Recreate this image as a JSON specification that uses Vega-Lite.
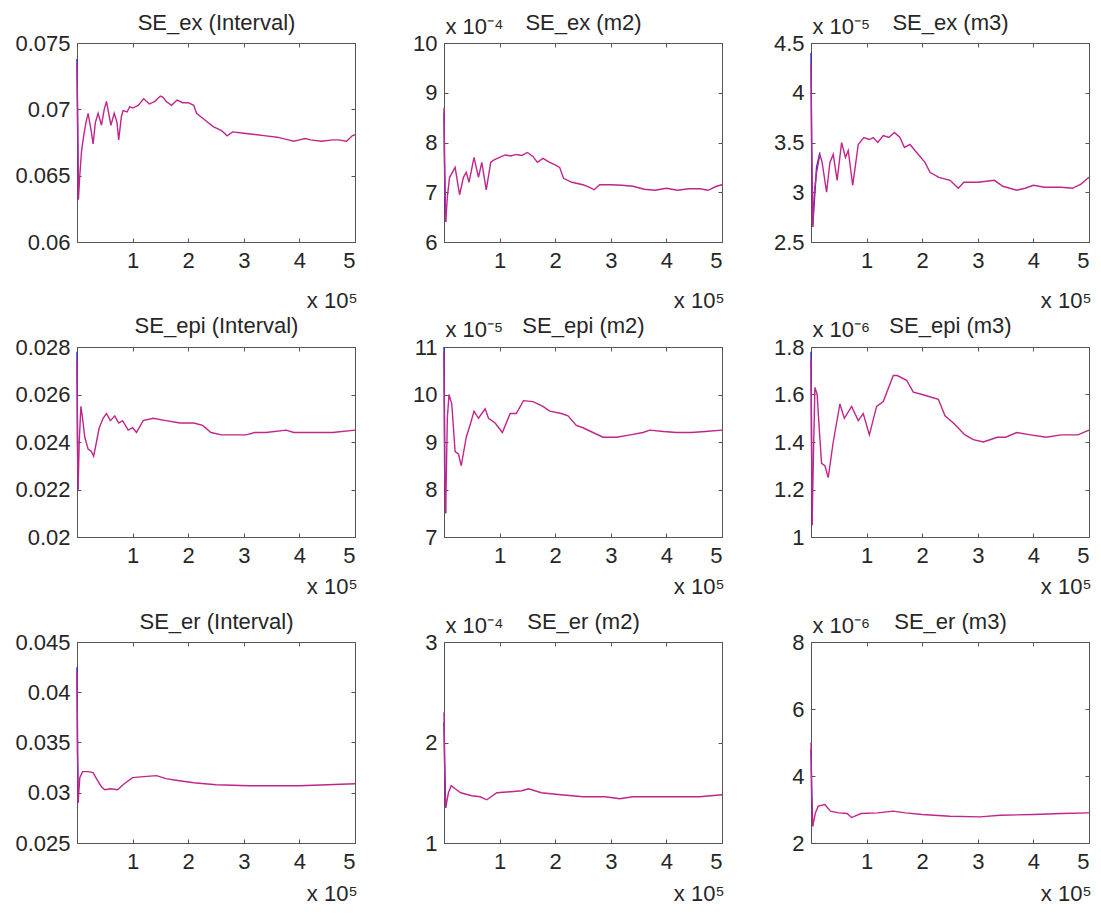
{
  "$schema": "https://vega.github.io/schema/vega-lite/v6.json",
  "background": "white",
  "padding": {"left": 14, "top": 10, "right": 5, "bottom": 5},
  "config": {
    "view": {"stroke": "#555555", "strokeWidth": 1},
    "axis": {
      "labelFont": "Liberation Sans", "labelFontSize": 22, "labelColor": "#262626",
      "titleFont": "Liberation Sans", "titleFontSize": 22, "titleFontWeight": "normal", "titleColor": "#262626",
      "tickSize": -4, "tickColor": "#555555", "domainColor": "#555555", "grid": false
    },
    "axisX": {"labelPadding": 12},
    "axisY": {"labelPadding": 11},
    "line": {"clip": true}
  },
  "datasets": {
    "p1": [
      {"s":"b","x":0,"y":0.0738},{"s":"b","x":0.015,"y":0.0665},{"s":"b","x":0.025,"y":0.0632},
      {"s":"m","x":0,"y":0.0735},{"s":"m","x":0.01,"y":0.07},{"s":"m","x":0.025,"y":0.0632},{"s":"m","x":0.05,"y":0.065},{"s":"m","x":0.08,"y":0.0668},{"s":"m","x":0.12,"y":0.068},{"s":"m","x":0.16,"y":0.069},{"s":"m","x":0.2,"y":0.0697},{"s":"m","x":0.25,"y":0.0685},{"s":"m","x":0.29,"y":0.0674},{"s":"m","x":0.33,"y":0.069},{"s":"m","x":0.38,"y":0.0697},{"s":"m","x":0.44,"y":0.0688},{"s":"m","x":0.49,"y":0.07},{"s":"m","x":0.53,"y":0.0706},{"s":"m","x":0.61,"y":0.0688},{"s":"m","x":0.67,"y":0.0697},{"s":"m","x":0.72,"y":0.069},{"s":"m","x":0.75,"y":0.0677},{"s":"m","x":0.8,"y":0.0695},{"s":"m","x":0.83,"y":0.0699},{"s":"m","x":0.9,"y":0.0698},{"s":"m","x":0.95,"y":0.0702},{"s":"m","x":1.0,"y":0.0701},{"s":"m","x":1.1,"y":0.0703},{"s":"m","x":1.2,"y":0.0708},{"s":"m","x":1.3,"y":0.0704},{"s":"m","x":1.4,"y":0.0706},{"s":"m","x":1.5,"y":0.071},{"s":"m","x":1.55,"y":0.0709},{"s":"m","x":1.6,"y":0.0706},{"s":"m","x":1.7,"y":0.0703},{"s":"m","x":1.8,"y":0.0707},{"s":"m","x":1.9,"y":0.0705},{"s":"m","x":2.0,"y":0.0705},{"s":"m","x":2.1,"y":0.0703},{"s":"m","x":2.15,"y":0.0697},{"s":"m","x":2.3,"y":0.0692},{"s":"m","x":2.45,"y":0.0687},{"s":"m","x":2.6,"y":0.0684},{"s":"m","x":2.7,"y":0.068},{"s":"m","x":2.8,"y":0.0683},{"s":"m","x":3.0,"y":0.0682},{"s":"m","x":3.2,"y":0.0681},{"s":"m","x":3.4,"y":0.068},{"s":"m","x":3.6,"y":0.0679},{"s":"m","x":3.8,"y":0.0677},{"s":"m","x":3.9,"y":0.0676},{"s":"m","x":4.0,"y":0.0677},{"s":"m","x":4.1,"y":0.0678},{"s":"m","x":4.2,"y":0.0677},{"s":"m","x":4.4,"y":0.0676},{"s":"m","x":4.6,"y":0.0677},{"s":"m","x":4.7,"y":0.0677},{"s":"m","x":4.85,"y":0.0676},{"s":"m","x":4.95,"y":0.068},{"s":"m","x":5.0,"y":0.0681}
    ],
    "p2": [
      {"s":"b","x":0,"y":8.6},{"s":"b","x":0.015,"y":7.0},{"s":"b","x":0.03,"y":6.4},
      {"s":"m","x":0,"y":8.7},{"s":"m","x":0.01,"y":7.6},{"s":"m","x":0.03,"y":6.4},{"s":"m","x":0.06,"y":6.9},{"s":"m","x":0.1,"y":7.3},{"s":"m","x":0.2,"y":7.5},{"s":"m","x":0.28,"y":6.95},{"s":"m","x":0.35,"y":7.3},{"s":"m","x":0.4,"y":7.4},{"s":"m","x":0.45,"y":7.2},{"s":"m","x":0.54,"y":7.7},{"s":"m","x":0.62,"y":7.3},{"s":"m","x":0.68,"y":7.6},{"s":"m","x":0.76,"y":7.05},{"s":"m","x":0.84,"y":7.6},{"s":"m","x":0.9,"y":7.65},{"s":"m","x":1.0,"y":7.7},{"s":"m","x":1.1,"y":7.75},{"s":"m","x":1.2,"y":7.73},{"s":"m","x":1.3,"y":7.76},{"s":"m","x":1.4,"y":7.74},{"s":"m","x":1.5,"y":7.8},{"s":"m","x":1.6,"y":7.72},{"s":"m","x":1.68,"y":7.6},{"s":"m","x":1.78,"y":7.68},{"s":"m","x":1.9,"y":7.6},{"s":"m","x":2.0,"y":7.55},{"s":"m","x":2.08,"y":7.5},{"s":"m","x":2.15,"y":7.28},{"s":"m","x":2.3,"y":7.2},{"s":"m","x":2.5,"y":7.15},{"s":"m","x":2.62,"y":7.1},{"s":"m","x":2.7,"y":7.05},{"s":"m","x":2.8,"y":7.15},{"s":"m","x":3.0,"y":7.15},{"s":"m","x":3.2,"y":7.14},{"s":"m","x":3.4,"y":7.12},{"s":"m","x":3.6,"y":7.06},{"s":"m","x":3.8,"y":7.04},{"s":"m","x":4.0,"y":7.08},{"s":"m","x":4.2,"y":7.04},{"s":"m","x":4.4,"y":7.07},{"s":"m","x":4.6,"y":7.07},{"s":"m","x":4.75,"y":7.04},{"s":"m","x":4.9,"y":7.12},{"s":"m","x":5.0,"y":7.15}
    ],
    "p3": [
      {"s":"b","x":0,"y":4.4},{"s":"b","x":0.015,"y":3.2},{"s":"b","x":0.03,"y":2.65},{"s":"b","x":0.1,"y":3.25},{"s":"b","x":0.16,"y":3.4},
      {"s":"m","x":0,"y":4.3},{"s":"m","x":0.01,"y":3.6},{"s":"m","x":0.03,"y":2.65},{"s":"m","x":0.06,"y":3.0},{"s":"m","x":0.1,"y":3.2},{"s":"m","x":0.16,"y":3.38},{"s":"m","x":0.2,"y":3.3},{"s":"m","x":0.28,"y":3.0},{"s":"m","x":0.34,"y":3.3},{"s":"m","x":0.4,"y":3.38},{"s":"m","x":0.47,"y":3.12},{"s":"m","x":0.55,"y":3.5},{"s":"m","x":0.62,"y":3.35},{"s":"m","x":0.67,"y":3.42},{"s":"m","x":0.75,"y":3.07},{"s":"m","x":0.85,"y":3.48},{"s":"m","x":0.95,"y":3.55},{"s":"m","x":1.05,"y":3.53},{"s":"m","x":1.12,"y":3.55},{"s":"m","x":1.2,"y":3.5},{"s":"m","x":1.3,"y":3.57},{"s":"m","x":1.4,"y":3.55},{"s":"m","x":1.5,"y":3.6},{"s":"m","x":1.6,"y":3.55},{"s":"m","x":1.68,"y":3.45},{"s":"m","x":1.78,"y":3.48},{"s":"m","x":1.9,"y":3.4},{"s":"m","x":2.05,"y":3.3},{"s":"m","x":2.14,"y":3.2},{"s":"m","x":2.3,"y":3.15},{"s":"m","x":2.5,"y":3.12},{"s":"m","x":2.65,"y":3.04},{"s":"m","x":2.75,"y":3.1},{"s":"m","x":3.0,"y":3.1},{"s":"m","x":3.3,"y":3.12},{"s":"m","x":3.45,"y":3.06},{"s":"m","x":3.7,"y":3.02},{"s":"m","x":3.85,"y":3.04},{"s":"m","x":4.0,"y":3.07},{"s":"m","x":4.2,"y":3.05},{"s":"m","x":4.5,"y":3.05},{"s":"m","x":4.7,"y":3.04},{"s":"m","x":4.85,"y":3.08},{"s":"m","x":5.0,"y":3.15}
    ],
    "p4": [
      {"s":"b","x":0,"y":0.0278},{"s":"b","x":0.01,"y":0.024},{"s":"b","x":0.02,"y":0.022},
      {"s":"m","x":0,"y":0.0275},{"s":"m","x":0.01,"y":0.0235},{"s":"m","x":0.02,"y":0.022},{"s":"m","x":0.04,"y":0.024},{"s":"m","x":0.07,"y":0.0255},{"s":"m","x":0.1,"y":0.025},{"s":"m","x":0.14,"y":0.0242},{"s":"m","x":0.2,"y":0.0237},{"s":"m","x":0.26,"y":0.0236},{"s":"m","x":0.3,"y":0.0234},{"s":"m","x":0.35,"y":0.024},{"s":"m","x":0.4,"y":0.0246},{"s":"m","x":0.47,"y":0.025},{"s":"m","x":0.53,"y":0.0252},{"s":"m","x":0.6,"y":0.0249},{"s":"m","x":0.68,"y":0.0251},{"s":"m","x":0.75,"y":0.0248},{"s":"m","x":0.82,"y":0.0249},{"s":"m","x":0.92,"y":0.0245},{"s":"m","x":1.0,"y":0.0246},{"s":"m","x":1.07,"y":0.0244},{"s":"m","x":1.19,"y":0.0249},{"s":"m","x":1.37,"y":0.025},{"s":"m","x":1.6,"y":0.0249},{"s":"m","x":1.85,"y":0.0248},{"s":"m","x":2.1,"y":0.0248},{"s":"m","x":2.26,"y":0.0247},{"s":"m","x":2.41,"y":0.0244},{"s":"m","x":2.6,"y":0.0243},{"s":"m","x":2.8,"y":0.0243},{"s":"m","x":3.04,"y":0.0243},{"s":"m","x":3.2,"y":0.0244},{"s":"m","x":3.4,"y":0.0244},{"s":"m","x":3.76,"y":0.0245},{"s":"m","x":3.9,"y":0.0244},{"s":"m","x":4.2,"y":0.0244},{"s":"m","x":4.6,"y":0.0244},{"s":"m","x":5.0,"y":0.0245}
    ],
    "p5": [
      {"s":"b","x":0,"y":11.0},{"s":"b","x":0.015,"y":8.5},{"s":"b","x":0.03,"y":7.5},
      {"s":"m","x":0,"y":10.9},{"s":"m","x":0.01,"y":8.5},{"s":"m","x":0.03,"y":7.5},{"s":"m","x":0.06,"y":9.5},{"s":"m","x":0.09,"y":10.0},{"s":"m","x":0.14,"y":9.8},{"s":"m","x":0.2,"y":8.8},{"s":"m","x":0.26,"y":8.75},{"s":"m","x":0.31,"y":8.5},{"s":"m","x":0.4,"y":9.1},{"s":"m","x":0.48,"y":9.4},{"s":"m","x":0.54,"y":9.65},{"s":"m","x":0.62,"y":9.5},{"s":"m","x":0.74,"y":9.7},{"s":"m","x":0.8,"y":9.5},{"s":"m","x":0.92,"y":9.4},{"s":"m","x":1.05,"y":9.2},{"s":"m","x":1.19,"y":9.6},{"s":"m","x":1.3,"y":9.6},{"s":"m","x":1.43,"y":9.87},{"s":"m","x":1.6,"y":9.85},{"s":"m","x":1.78,"y":9.75},{"s":"m","x":1.9,"y":9.65},{"s":"m","x":2.11,"y":9.6},{"s":"m","x":2.23,"y":9.55},{"s":"m","x":2.38,"y":9.35},{"s":"m","x":2.5,"y":9.3},{"s":"m","x":2.68,"y":9.2},{"s":"m","x":2.86,"y":9.1},{"s":"m","x":3.1,"y":9.1},{"s":"m","x":3.35,"y":9.15},{"s":"m","x":3.58,"y":9.2},{"s":"m","x":3.7,"y":9.25},{"s":"m","x":3.95,"y":9.22},{"s":"m","x":4.18,"y":9.2},{"s":"m","x":4.45,"y":9.2},{"s":"m","x":4.7,"y":9.22},{"s":"m","x":5.0,"y":9.25}
    ],
    "p6": [
      {"s":"b","x":0,"y":1.78},{"s":"b","x":0.01,"y":1.4},{"s":"b","x":0.02,"y":1.05},
      {"s":"m","x":0,"y":1.75},{"s":"m","x":0.01,"y":1.4},{"s":"m","x":0.02,"y":1.05},{"s":"m","x":0.04,"y":1.3},{"s":"m","x":0.07,"y":1.63},{"s":"m","x":0.11,"y":1.6},{"s":"m","x":0.15,"y":1.45},{"s":"m","x":0.19,"y":1.31},{"s":"m","x":0.25,"y":1.3},{"s":"m","x":0.31,"y":1.25},{"s":"m","x":0.4,"y":1.4},{"s":"m","x":0.52,"y":1.56},{"s":"m","x":0.6,"y":1.5},{"s":"m","x":0.73,"y":1.55},{"s":"m","x":0.85,"y":1.49},{"s":"m","x":0.94,"y":1.52},{"s":"m","x":1.05,"y":1.43},{"s":"m","x":1.18,"y":1.55},{"s":"m","x":1.3,"y":1.57},{"s":"m","x":1.48,"y":1.68},{"s":"m","x":1.55,"y":1.68},{"s":"m","x":1.72,"y":1.66},{"s":"m","x":1.84,"y":1.61},{"s":"m","x":2.0,"y":1.6},{"s":"m","x":2.29,"y":1.58},{"s":"m","x":2.41,"y":1.51},{"s":"m","x":2.56,"y":1.48},{"s":"m","x":2.77,"y":1.43},{"s":"m","x":2.92,"y":1.41},{"s":"m","x":3.1,"y":1.4},{"s":"m","x":3.35,"y":1.42},{"s":"m","x":3.5,"y":1.42},{"s":"m","x":3.7,"y":1.44},{"s":"m","x":3.95,"y":1.43},{"s":"m","x":4.23,"y":1.42},{"s":"m","x":4.5,"y":1.43},{"s":"m","x":4.8,"y":1.43},{"s":"m","x":5.0,"y":1.45}
    ],
    "p7": [
      {"s":"b","x":0,"y":0.0425},{"s":"b","x":0.01,"y":0.034},{"s":"b","x":0.02,"y":0.029},
      {"s":"m","x":0,"y":0.042},{"s":"m","x":0.01,"y":0.034},{"s":"m","x":0.02,"y":0.029},{"s":"m","x":0.05,"y":0.0315},{"s":"m","x":0.1,"y":0.0321},{"s":"m","x":0.2,"y":0.0321},{"s":"m","x":0.29,"y":0.032},{"s":"m","x":0.36,"y":0.0313},{"s":"m","x":0.44,"y":0.0306},{"s":"m","x":0.5,"y":0.0303},{"s":"m","x":0.6,"y":0.0304},{"s":"m","x":0.73,"y":0.0303},{"s":"m","x":0.85,"y":0.0309},{"s":"m","x":1.0,"y":0.0315},{"s":"m","x":1.2,"y":0.0316},{"s":"m","x":1.43,"y":0.0317},{"s":"m","x":1.6,"y":0.0314},{"s":"m","x":1.84,"y":0.0312},{"s":"m","x":2.1,"y":0.031},{"s":"m","x":2.5,"y":0.0308},{"s":"m","x":3.1,"y":0.0307},{"s":"m","x":3.5,"y":0.0307},{"s":"m","x":4.0,"y":0.0307},{"s":"m","x":4.5,"y":0.0308},{"s":"m","x":5.0,"y":0.0309}
    ],
    "p8": [
      {"s":"b","x":0,"y":2.2},{"s":"b","x":0.015,"y":1.7},{"s":"b","x":0.03,"y":1.35},
      {"s":"m","x":0,"y":2.3},{"s":"m","x":0.01,"y":1.8},{"s":"m","x":0.03,"y":1.35},{"s":"m","x":0.08,"y":1.5},{"s":"m","x":0.13,"y":1.57},{"s":"m","x":0.2,"y":1.54},{"s":"m","x":0.3,"y":1.5},{"s":"m","x":0.5,"y":1.47},{"s":"m","x":0.65,"y":1.46},{"s":"m","x":0.77,"y":1.43},{"s":"m","x":0.95,"y":1.5},{"s":"m","x":1.2,"y":1.51},{"s":"m","x":1.4,"y":1.52},{"s":"m","x":1.52,"y":1.54},{"s":"m","x":1.75,"y":1.5},{"s":"m","x":2.1,"y":1.48},{"s":"m","x":2.5,"y":1.46},{"s":"m","x":2.9,"y":1.46},{"s":"m","x":3.16,"y":1.44},{"s":"m","x":3.4,"y":1.46},{"s":"m","x":4.0,"y":1.46},{"s":"m","x":4.6,"y":1.46},{"s":"m","x":5.0,"y":1.48}
    ],
    "p9": [
      {"s":"b","x":0,"y":4.8},{"s":"b","x":0.015,"y":3.4},{"s":"b","x":0.03,"y":2.5},
      {"s":"m","x":0,"y":5.0},{"s":"m","x":0.01,"y":3.5},{"s":"m","x":0.03,"y":2.5},{"s":"m","x":0.08,"y":2.9},{"s":"m","x":0.13,"y":3.1},{"s":"m","x":0.25,"y":3.15},{"s":"m","x":0.35,"y":2.95},{"s":"m","x":0.5,"y":2.9},{"s":"m","x":0.65,"y":2.88},{"s":"m","x":0.73,"y":2.76},{"s":"m","x":0.9,"y":2.88},{"s":"m","x":1.2,"y":2.9},{"s":"m","x":1.48,"y":2.95},{"s":"m","x":1.7,"y":2.9},{"s":"m","x":2.0,"y":2.85},{"s":"m","x":2.5,"y":2.8},{"s":"m","x":3.04,"y":2.78},{"s":"m","x":3.4,"y":2.83},{"s":"m","x":4.0,"y":2.85},{"s":"m","x":4.5,"y":2.88},{"s":"m","x":5.0,"y":2.9}
    ]
  },
  "columns": 3,
  "spacing": {"row": 105, "column": 89},
  "bounds": "flush",
  "concat": [
    {"width": 278, "height": 199, "data": {"name": "p1"},
     "layer": [
      {"mark": {"type": "line", "strokeWidth": 1.4},
       "encoding": {
        "x": {"field": "x", "type": "quantitative", "scale": {"domain": [0, 5], "nice": false, "zero": false}, "axis": {"orient": "bottom", "values": [1,2,3,4,5], "title": "x 10⁵", "titleX": 280, "titleY": 65, "titleAlign": "right", "titleBaseline": "alphabetic", "titleAnchor": null}},
        "y": {"field": "y", "type": "quantitative", "scale": {"domain": [0.06, 0.075], "nice": false, "zero": false}, "axis": {"orient": "left", "values": [0.06,0.065,0.07,0.075], "format": ".4~g", "title": null}},
        "color": {"field": "s", "type": "nominal", "scale": {"domain": ["b","m"], "range": ["#2b2bd6","#c0258a"]}, "legend": null}
       }},
      {"mark": {"type": "line", "opacity": 0},
       "encoding": {
        "x": {"field": "x", "type": "quantitative", "scale": {"domain": [0, 5], "nice": false, "zero": false}, "axis": {"orient": "top", "values": [1,2,3,4,5], "labels": false, "title": "SE_ex (Interval)", "titleX": 139, "titleY": -14, "titleAlign": "center", "titleBaseline": "alphabetic", "titleAngle": 0}},
        "y": {"field": "y", "type": "quantitative", "scale": {"domain": [0.06, 0.075], "nice": false, "zero": false}, "axis": {"orient": "right", "values": [0.06,0.065,0.07,0.075], "labels": false, "title": null}}
       }}
     ],
     "resolve": {"axis": {"x": "independent", "y": "independent"}}},
    {"width": 278, "height": 199, "data": {"name": "p2"},
     "layer": [
      {"mark": {"type": "line", "strokeWidth": 1.4},
       "encoding": {
        "x": {"field": "x", "type": "quantitative", "scale": {"domain": [0, 5], "nice": false, "zero": false}, "axis": {"orient": "bottom", "values": [1,2,3,4,5], "title": "x 10⁵", "titleX": 280, "titleY": 65, "titleAlign": "right", "titleBaseline": "alphabetic", "titleAnchor": null}},
        "y": {"field": "y", "type": "quantitative", "scale": {"domain": [6, 10], "nice": false, "zero": false}, "axis": {"orient": "left", "values": [6,7,8,9,10], "format": ".4~g", "title": "x 10⁻⁴", "titleX": 1, "titleY": -10, "titleAngle": 0, "titleAlign": "left", "titleBaseline": "alphabetic", "titleAnchor": null}},
        "color": {"field": "s", "type": "nominal", "scale": {"domain": ["b","m"], "range": ["#2b2bd6","#c0258a"]}, "legend": null}
       }},
      {"mark": {"type": "line", "opacity": 0},
       "encoding": {
        "x": {"field": "x", "type": "quantitative", "scale": {"domain": [0, 5], "nice": false, "zero": false}, "axis": {"orient": "top", "values": [1,2,3,4,5], "labels": false, "title": "SE_ex (m2)", "titleX": 139, "titleY": -14, "titleAlign": "center", "titleBaseline": "alphabetic", "titleAngle": 0}},
        "y": {"field": "y", "type": "quantitative", "scale": {"domain": [6, 10], "nice": false, "zero": false}, "axis": {"orient": "right", "values": [6,7,8,9,10], "labels": false, "title": null}}
       }}
     ],
     "resolve": {"axis": {"x": "independent", "y": "independent"}}},
    {"width": 278, "height": 199, "data": {"name": "p3"},
     "layer": [
      {"mark": {"type": "line", "strokeWidth": 1.4},
       "encoding": {
        "x": {"field": "x", "type": "quantitative", "scale": {"domain": [0, 5], "nice": false, "zero": false}, "axis": {"orient": "bottom", "values": [1,2,3,4,5], "title": "x 10⁵", "titleX": 280, "titleY": 65, "titleAlign": "right", "titleBaseline": "alphabetic", "titleAnchor": null}},
        "y": {"field": "y", "type": "quantitative", "scale": {"domain": [2.5, 4.5], "nice": false, "zero": false}, "axis": {"orient": "left", "values": [2.5,3,3.5,4,4.5], "format": ".4~g", "title": "x 10⁻⁵", "titleX": 1, "titleY": -10, "titleAngle": 0, "titleAlign": "left", "titleBaseline": "alphabetic", "titleAnchor": null}},
        "color": {"field": "s", "type": "nominal", "scale": {"domain": ["b","m"], "range": ["#2b2bd6","#c0258a"]}, "legend": null}
       }},
      {"mark": {"type": "line", "opacity": 0},
       "encoding": {
        "x": {"field": "x", "type": "quantitative", "scale": {"domain": [0, 5], "nice": false, "zero": false}, "axis": {"orient": "top", "values": [1,2,3,4,5], "labels": false, "title": "SE_ex (m3)", "titleX": 139, "titleY": -14, "titleAlign": "center", "titleBaseline": "alphabetic", "titleAngle": 0}},
        "y": {"field": "y", "type": "quantitative", "scale": {"domain": [2.5, 4.5], "nice": false, "zero": false}, "axis": {"orient": "right", "values": [2.5,3,3.5,4,4.5], "labels": false, "title": null}}
       }}
     ],
     "resolve": {"axis": {"x": "independent", "y": "independent"}}},
    {"width": 278, "height": 190, "data": {"name": "p4"},
     "layer": [
      {"mark": {"type": "line", "strokeWidth": 1.4},
       "encoding": {
        "x": {"field": "x", "type": "quantitative", "scale": {"domain": [0, 5], "nice": false, "zero": false}, "axis": {"orient": "bottom", "values": [1,2,3,4,5], "title": "x 10⁵", "titleX": 280, "titleY": 56, "titleAlign": "right", "titleBaseline": "alphabetic", "titleAnchor": null}},
        "y": {"field": "y", "type": "quantitative", "scale": {"domain": [0.02, 0.028], "nice": false, "zero": false}, "axis": {"orient": "left", "values": [0.02,0.022,0.024,0.026,0.028], "format": ".4~g", "title": null}},
        "color": {"field": "s", "type": "nominal", "scale": {"domain": ["b","m"], "range": ["#2b2bd6","#c0258a"]}, "legend": null}
       }},
      {"mark": {"type": "line", "opacity": 0},
       "encoding": {
        "x": {"field": "x", "type": "quantitative", "scale": {"domain": [0, 5], "nice": false, "zero": false}, "axis": {"orient": "top", "values": [1,2,3,4,5], "labels": false, "title": "SE_epi (Interval)", "titleX": 139, "titleY": -15, "titleAlign": "center", "titleBaseline": "alphabetic", "titleAngle": 0}},
        "y": {"field": "y", "type": "quantitative", "scale": {"domain": [0.02, 0.028], "nice": false, "zero": false}, "axis": {"orient": "right", "values": [0.02,0.022,0.024,0.026,0.028], "labels": false, "title": null}}
       }}
     ],
     "resolve": {"axis": {"x": "independent", "y": "independent"}}},
    {"width": 278, "height": 190, "data": {"name": "p5"},
     "layer": [
      {"mark": {"type": "line", "strokeWidth": 1.4},
       "encoding": {
        "x": {"field": "x", "type": "quantitative", "scale": {"domain": [0, 5], "nice": false, "zero": false}, "axis": {"orient": "bottom", "values": [1,2,3,4,5], "title": "x 10⁵", "titleX": 280, "titleY": 56, "titleAlign": "right", "titleBaseline": "alphabetic", "titleAnchor": null}},
        "y": {"field": "y", "type": "quantitative", "scale": {"domain": [7, 11], "nice": false, "zero": false}, "axis": {"orient": "left", "values": [7,8,9,10,11], "format": ".4~g", "title": "x 10⁻⁵", "titleX": 1, "titleY": -11, "titleAngle": 0, "titleAlign": "left", "titleBaseline": "alphabetic", "titleAnchor": null}},
        "color": {"field": "s", "type": "nominal", "scale": {"domain": ["b","m"], "range": ["#2b2bd6","#c0258a"]}, "legend": null}
       }},
      {"mark": {"type": "line", "opacity": 0},
       "encoding": {
        "x": {"field": "x", "type": "quantitative", "scale": {"domain": [0, 5], "nice": false, "zero": false}, "axis": {"orient": "top", "values": [1,2,3,4,5], "labels": false, "title": "SE_epi (m2)", "titleX": 139, "titleY": -15, "titleAlign": "center", "titleBaseline": "alphabetic", "titleAngle": 0}},
        "y": {"field": "y", "type": "quantitative", "scale": {"domain": [7, 11], "nice": false, "zero": false}, "axis": {"orient": "right", "values": [7,8,9,10,11], "labels": false, "title": null}}
       }}
     ],
     "resolve": {"axis": {"x": "independent", "y": "independent"}}},
    {"width": 278, "height": 190, "data": {"name": "p6"},
     "layer": [
      {"mark": {"type": "line", "strokeWidth": 1.4},
       "encoding": {
        "x": {"field": "x", "type": "quantitative", "scale": {"domain": [0, 5], "nice": false, "zero": false}, "axis": {"orient": "bottom", "values": [1,2,3,4,5], "title": "x 10⁵", "titleX": 280, "titleY": 56, "titleAlign": "right", "titleBaseline": "alphabetic", "titleAnchor": null}},
        "y": {"field": "y", "type": "quantitative", "scale": {"domain": [1, 1.8], "nice": false, "zero": false}, "axis": {"orient": "left", "values": [1,1.2,1.4,1.6,1.8], "format": ".4~g", "title": "x 10⁻⁶", "titleX": 1, "titleY": -11, "titleAngle": 0, "titleAlign": "left", "titleBaseline": "alphabetic", "titleAnchor": null}},
        "color": {"field": "s", "type": "nominal", "scale": {"domain": ["b","m"], "range": ["#2b2bd6","#c0258a"]}, "legend": null}
       }},
      {"mark": {"type": "line", "opacity": 0},
       "encoding": {
        "x": {"field": "x", "type": "quantitative", "scale": {"domain": [0, 5], "nice": false, "zero": false}, "axis": {"orient": "top", "values": [1,2,3,4,5], "labels": false, "title": "SE_epi (m3)", "titleX": 139, "titleY": -15, "titleAlign": "center", "titleBaseline": "alphabetic", "titleAngle": 0}},
        "y": {"field": "y", "type": "quantitative", "scale": {"domain": [1, 1.8], "nice": false, "zero": false}, "axis": {"orient": "right", "values": [1,1.2,1.4,1.6,1.8], "labels": false, "title": null}}
       }}
     ],
     "resolve": {"axis": {"x": "independent", "y": "independent"}}},
    {"width": 278, "height": 201, "data": {"name": "p7"},
     "layer": [
      {"mark": {"type": "line", "strokeWidth": 1.4},
       "encoding": {
        "x": {"field": "x", "type": "quantitative", "scale": {"domain": [0, 5], "nice": false, "zero": false}, "axis": {"orient": "bottom", "values": [1,2,3,4,5], "title": "x 10⁵", "titleX": 280, "titleY": 57, "titleAlign": "right", "titleBaseline": "alphabetic", "titleAnchor": null}},
        "y": {"field": "y", "type": "quantitative", "scale": {"domain": [0.025, 0.045], "nice": false, "zero": false}, "axis": {"orient": "left", "values": [0.025,0.03,0.035,0.04,0.045], "format": ".4~g", "title": null}},
        "color": {"field": "s", "type": "nominal", "scale": {"domain": ["b","m"], "range": ["#2b2bd6","#c0258a"]}, "legend": null}
       }},
      {"mark": {"type": "line", "opacity": 0},
       "encoding": {
        "x": {"field": "x", "type": "quantitative", "scale": {"domain": [0, 5], "nice": false, "zero": false}, "axis": {"orient": "top", "values": [1,2,3,4,5], "labels": false, "title": "SE_er (Interval)", "titleX": 139, "titleY": -14, "titleAlign": "center", "titleBaseline": "alphabetic", "titleAngle": 0}},
        "y": {"field": "y", "type": "quantitative", "scale": {"domain": [0.025, 0.045], "nice": false, "zero": false}, "axis": {"orient": "right", "values": [0.025,0.03,0.035,0.04,0.045], "labels": false, "title": null}}
       }}
     ],
     "resolve": {"axis": {"x": "independent", "y": "independent"}}},
    {"width": 278, "height": 201, "data": {"name": "p8"},
     "layer": [
      {"mark": {"type": "line", "strokeWidth": 1.4},
       "encoding": {
        "x": {"field": "x", "type": "quantitative", "scale": {"domain": [0, 5], "nice": false, "zero": false}, "axis": {"orient": "bottom", "values": [1,2,3,4,5], "title": "x 10⁵", "titleX": 280, "titleY": 57, "titleAlign": "right", "titleBaseline": "alphabetic", "titleAnchor": null}},
        "y": {"field": "y", "type": "quantitative", "scale": {"domain": [1, 3], "nice": false, "zero": false}, "axis": {"orient": "left", "values": [1,2,3], "format": ".4~g", "title": "x 10⁻⁴", "titleX": 1, "titleY": -10, "titleAngle": 0, "titleAlign": "left", "titleBaseline": "alphabetic", "titleAnchor": null}},
        "color": {"field": "s", "type": "nominal", "scale": {"domain": ["b","m"], "range": ["#2b2bd6","#c0258a"]}, "legend": null}
       }},
      {"mark": {"type": "line", "opacity": 0},
       "encoding": {
        "x": {"field": "x", "type": "quantitative", "scale": {"domain": [0, 5], "nice": false, "zero": false}, "axis": {"orient": "top", "values": [1,2,3,4,5], "labels": false, "title": "SE_er (m2)", "titleX": 139, "titleY": -14, "titleAlign": "center", "titleBaseline": "alphabetic", "titleAngle": 0}},
        "y": {"field": "y", "type": "quantitative", "scale": {"domain": [1, 3], "nice": false, "zero": false}, "axis": {"orient": "right", "values": [1,2,3], "labels": false, "title": null}}
       }}
     ],
     "resolve": {"axis": {"x": "independent", "y": "independent"}}},
    {"width": 278, "height": 201, "data": {"name": "p9"},
     "layer": [
      {"mark": {"type": "line", "strokeWidth": 1.4},
       "encoding": {
        "x": {"field": "x", "type": "quantitative", "scale": {"domain": [0, 5], "nice": false, "zero": false}, "axis": {"orient": "bottom", "values": [1,2,3,4,5], "title": "x 10⁵", "titleX": 280, "titleY": 57, "titleAlign": "right", "titleBaseline": "alphabetic", "titleAnchor": null}},
        "y": {"field": "y", "type": "quantitative", "scale": {"domain": [2, 8], "nice": false, "zero": false}, "axis": {"orient": "left", "values": [2,4,6,8], "format": ".4~g", "title": "x 10⁻⁶", "titleX": 1, "titleY": -10, "titleAngle": 0, "titleAlign": "left", "titleBaseline": "alphabetic", "titleAnchor": null}},
        "color": {"field": "s", "type": "nominal", "scale": {"domain": ["b","m"], "range": ["#2b2bd6","#c0258a"]}, "legend": null}
       }},
      {"mark": {"type": "line", "opacity": 0},
       "encoding": {
        "x": {"field": "x", "type": "quantitative", "scale": {"domain": [0, 5], "nice": false, "zero": false}, "axis": {"orient": "top", "values": [1,2,3,4,5], "labels": false, "title": "SE_er (m3)", "titleX": 139, "titleY": -14, "titleAlign": "center", "titleBaseline": "alphabetic", "titleAngle": 0}},
        "y": {"field": "y", "type": "quantitative", "scale": {"domain": [2, 8], "nice": false, "zero": false}, "axis": {"orient": "right", "values": [2,4,6,8], "labels": false, "title": null}}
       }}
     ],
     "resolve": {"axis": {"x": "independent", "y": "independent"}}}
  ]
}
